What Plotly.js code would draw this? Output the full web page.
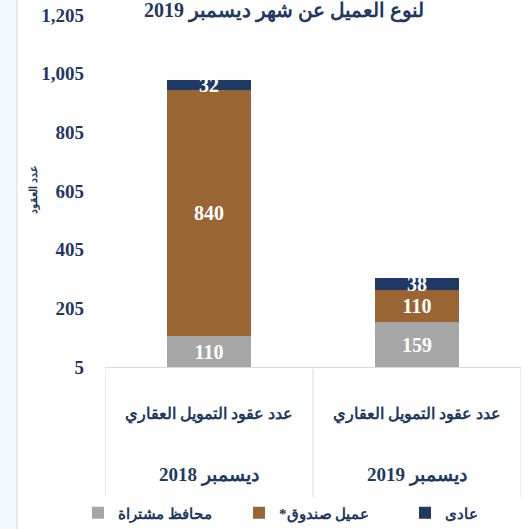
<!DOCTYPE html>
<html>
<head>
<meta charset="utf-8">
<script src="https://cdn.plot.ly/plotly-3.0.1.min.js"></script>
<style>html,body{margin:0;padding:0;background:#fff;}#chart{width:522px;height:529px;}</style>
</head>
<body>
<div id="chart"></div>
<script>
const categories = ["ديسمبر 2018", "ديسمبر 2019"];
const innerLabel = "عدد عقود التمويل العقاري";
const portfolio = [110, 159];   // محافظ مشتراة
const fundClient = [840, 110];  // عميل صندوق*
const regular = [32, 38];       // عادى
const seriesNames = ["محافظ مشتراة", "*عميل صندوق", "عادى"];
const yTicks = [5, 205, 405, 605, 805, 1005, 1205];
const titleText = "لنوع العميل عن شهر ديسمبر 2019";
const yTitle = "عدد العقود";

const navy = "#1F3864";
const serif = "Liberation Serif, 'Times New Roman', DejaVu Serif, serif";
const labelFont = {family: serif, size: 20, color: "#ffffff", weight: "bold"};

function barTrace(vals, name, color, legendId) {
  return {
    type: "bar", x: categories, y: vals, name: name, legend: legendId,
    marker: {color: color, line: {width: 0}},
    text: vals.map(String), textposition: "inside", insidetextanchor: "middle",
    textangle: 0, constraintext: "none", textfont: labelFont, cliponaxis: false,
    hoverinfo: "skip"
  };
}

const data = [
  barTrace(portfolio, seriesNames[0], "#A6A6A6", "legend"),
  barTrace(fundClient, seriesNames[1], "#996633", "legend2"),
  barTrace(regular, seriesNames[2], navy, "legend3")
];

const M = {l: 105, r: 1, t: 15, b: 162, autoexpand: false};
const plotW = 522 - M.l - M.r;
const plotH = 529 - M.t - M.b;
const px2y = p => -(p - (529 - M.b)) / plotH; // page y pixel -> paper y
const px2x = p => (p - M.l) / plotW;          // page x pixel -> paper x

const shapes = [
  {type: "rect", xref: "paper", yref: "paper", x0: px2x(0), x1: px2x(17), y0: px2y(529), y1: px2y(0),
   fillcolor: "#F3F9FD", line: {width: 0}, layer: "below"},
  {type: "line", xref: "paper", yref: "paper", x0: px2x(17), x1: px2x(17), y0: px2y(529), y1: px2y(0),
   line: {color: "#D9D9D9", width: 1}}
];
for (let i = 0; i <= categories.length; i++) {
  shapes.push({type: "line", xref: "x", yref: "paper", x0: i - 0.5, x1: i - 0.5,
    y0: px2y(369), y1: px2y(497), line: {color: "#D9D9D9", width: 1}});
}

const annotations = [];
categories.forEach(c => {
  annotations.push({xref: "x", yref: "paper", x: c, y: px2y(415), text: innerLabel, showarrow: false,
    yanchor: "middle", font: {family: serif, size: 16, color: navy, weight: "bold"}});
  annotations.push({xref: "x", yref: "paper", x: c, y: px2y(475), text: c, showarrow: false,
    yanchor: "middle", font: {family: serif, size: 19, color: navy, weight: "bold"}});
});
annotations.push({xref: "paper", yref: "paper", x: px2x(33), y: px2y(190), text: yTitle,
  textangle: -90, showarrow: false, xanchor: "center", yanchor: "middle",
  font: {family: serif, size: 11, color: navy, weight: "bold"}});

const legendFont = {family: serif, size: 15, color: navy, weight: "bold"};
function legendAt(leftPx) {
  return {orientation: "h", x: px2x(leftPx), xanchor: "left", y: px2y(513), yanchor: "middle",
    font: legendFont, bgcolor: "rgba(0,0,0,0)", borderwidth: 0};
}

const layout = {
  width: 522, height: 529,
  margin: M,
  paper_bgcolor: "#ffffff", plot_bgcolor: "#ffffff",
  barmode: "stack", bargap: 0.6,
  title: {text: titleText, x: 284/522, xanchor: "center", y: 1 - 10/529, yanchor: "middle",
    font: {family: serif, size: 20, color: navy, weight: "bold"}},
  xaxis: {type: "category", showticklabels: false, ticks: "", showgrid: false,
    showline: true, linecolor: "#D9D9D9", linewidth: 1, zeroline: false, range: [-0.5, 1.5]},
  yaxis: {range: [5, 1205], tickvals: yTicks, ticktext: yTicks.map(v => v.toLocaleString("en-US")),
    showgrid: false, zeroline: false, showline: false, ticks: "", ticklabelstandoff: 20,
    tickfont: {family: serif, size: 19, color: navy, weight: "bold"}},
  showlegend: true,
  legend: legendAt(78),
  legend2: legendAt(239),
  legend3: legendAt(405),
  shapes: shapes,
  annotations: annotations
};

Plotly.newPlot("chart", data, layout, {displayModeBar: false, staticPlot: true});
</script>
</body>
</html>
